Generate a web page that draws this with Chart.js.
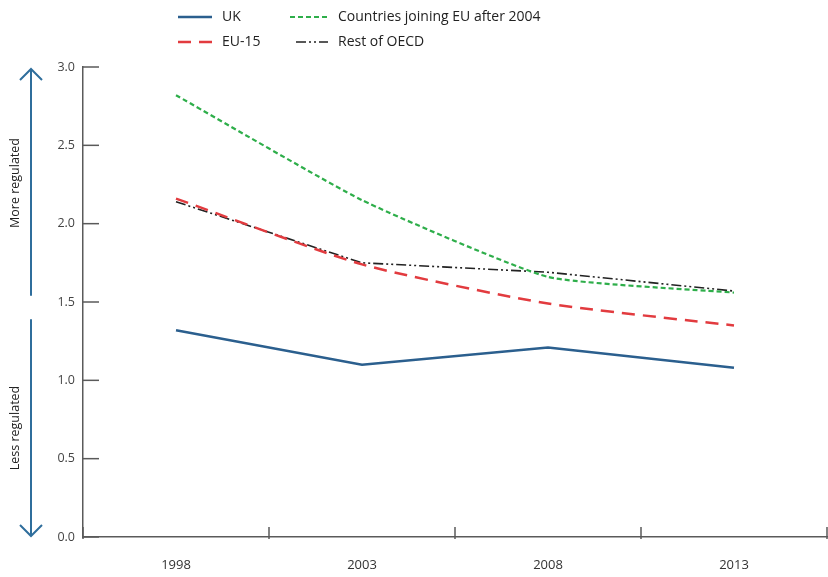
<!DOCTYPE html>
<html>
<head>
<meta charset="utf-8">
<script src="https://cdn.jsdelivr.net/npm/chart.js@4.4.0/dist/chart.umd.min.js"></script>
<style>
  html, body { margin: 0; padding: 0; background: #fff; }
  #wrap { width: 828px; height: 577px; position: relative; }
</style>
</head>
<body>
<div id="wrap"><canvas id="chart"></canvas></div>
<script>
// data
const years = ['1998', '2003', '2008', '2013'];
const ukValues = [1.32, 1.10, 1.21, 1.08];
const eu15Values = [2.16, 1.74, 1.49, 1.35];
const newEuValues = [2.82, 2.15, 1.66, 1.56];
const oecdValues = [2.14, 1.75, 1.69, 1.57];
const yTicks = [0, 0.5, 1, 1.5, 2, 2.5, 3];

const FONT = '"Open Sans", "Noto Sans", sans-serif';
const AXIS = '#5a5a5a';
const ARROW = '#2f6e9c';

// legend drawn in two rows like the original figure
const legendLayout = [
  { ds: 0, x: 178, y: 17, len: 34, tx: 222 },
  { ds: 2, x: 290, y: 17, len: 38, tx: 338 },
  { ds: 1, x: 178, y: 42, len: 34, tx: 222 },
  { ds: 3, x: 296, y: 42, len: 32, tx: 338 }
];

const decorPlugin = {
  id: 'decor',
  afterDraw(chart) {
    const ctx = chart.ctx;
    const xs = chart.scales.x, ys = chart.scales.y;
    const area = chart.chartArea;
    ctx.save();

    // inward y ticks
    ctx.strokeStyle = AXIS;
    ctx.lineWidth = 1.5;
    yTicks.forEach(v => {
      const py = ys.getPixelForValue(v);
      ctx.beginPath();
      ctx.moveTo(area.left, py);
      ctx.lineTo(area.left + 16, py);
      ctx.stroke();
    });

    // x ticks between categories
    const step = xs.getPixelForValue(1) - xs.getPixelForValue(0);
    for (let i = 0; i <= years.length; i++) {
      const px = xs.getPixelForValue(0) - step / 2 + i * step;
      ctx.beginPath();
      ctx.moveTo(px, area.bottom - 10);
      ctx.lineTo(px, area.bottom + 2);
      ctx.stroke();
    }

    // arrows on the left
    const ax = 31;
    ctx.strokeStyle = ARROW;
    ctx.lineWidth = 2;
    const topY = ys.getPixelForValue(3) + 2, midA = ys.getPixelForValue(1.54), midB = ys.getPixelForValue(1.39);
    const botY = ys.getPixelForValue(0) - 1;
    ctx.beginPath();
    ctx.moveTo(ax, midA); ctx.lineTo(ax, topY);
    ctx.moveTo(ax - 11, topY + 11); ctx.lineTo(ax, topY); ctx.lineTo(ax + 11, topY + 11);
    ctx.moveTo(ax, midB); ctx.lineTo(ax, botY);
    ctx.moveTo(ax - 11, botY - 11); ctx.lineTo(ax, botY); ctx.lineTo(ax + 11, botY - 11);
    ctx.stroke();

    ctx.fillStyle = '#222';
    ctx.font = '12.5px ' + FONT;
    ctx.textAlign = 'center';
    ctx.textBaseline = 'middle';
    [['More regulated', 183], ['Less regulated', 428]].forEach(([t, cy]) => {
      ctx.save();
      ctx.translate(15, cy);
      ctx.rotate(-Math.PI / 2);
      ctx.fillText(t, 0, 0);
      ctx.restore();
    });

    // legend
    ctx.font = '14px ' + FONT;
    ctx.textAlign = 'left';
    legendLayout.forEach(item => {
      const ds = chart.data.datasets[item.ds];
      ctx.strokeStyle = ds.borderColor;
      ctx.lineWidth = ds.borderWidth;
      ctx.setLineDash(ds.borderDash || []);
      ctx.beginPath();
      ctx.moveTo(item.x, item.y);
      ctx.lineTo(item.x + item.len, item.y);
      ctx.stroke();
      ctx.setLineDash([]);
      ctx.fillStyle = '#222';
      ctx.fillText(ds.label, item.tx, item.y);
    });
    ctx.restore();
  }
};

new Chart(document.getElementById('chart'), {
  type: 'line',
  data: {
    labels: years,
    datasets: [
      { label: 'UK', data: ukValues, borderColor: '#2b5f8e', borderWidth: 2.5, tension: 0 },
      { label: 'EU-15', data: eu15Values, borderColor: '#e23b3f', borderWidth: 2.5, borderDash: [13, 8], tension: 0.2 },
      { label: 'Countries joining EU after 2004', data: newEuValues, borderColor: '#2eae4a', borderWidth: 2.2, borderDash: [5, 3], tension: 0.15 },
      { label: 'Rest of OECD', data: oecdValues, borderColor: '#222', borderWidth: 1.6, borderDash: [10, 3, 2, 3, 2, 3], tension: 0 }
    ]
  },
  options: {
    responsive: true,
    maintainAspectRatio: false,
    animation: false,
    elements: { point: { radius: 0 } },
    layout: { padding: { top: 67, right: 1, left: 0, bottom: 0 } },
    plugins: { legend: { display: false }, tooltip: { enabled: false } },
    scales: {
      x: {
        offset: true,
        grid: { display: false, drawTicks: false },
        border: { color: AXIS, width: 1.5 },
        ticks: { color: '#333', font: { family: FONT, size: 13 }, padding: 20 },
        afterFit: s => { s.height = 40; }
      },
      y: {
        min: 0, max: 3,
        grid: { display: false, drawTicks: false },
        border: { color: AXIS, width: 1.5 },
        ticks: {
          stepSize: 0.5, padding: 8, color: '#444',
          font: { family: FONT, size: 12.5 },
          callback: v => v.toFixed(1)
        },
        afterFit: s => { s.width = 83; }
      }
    }
  },
  plugins: [decorPlugin]
});
</script>
</body>
</html>
